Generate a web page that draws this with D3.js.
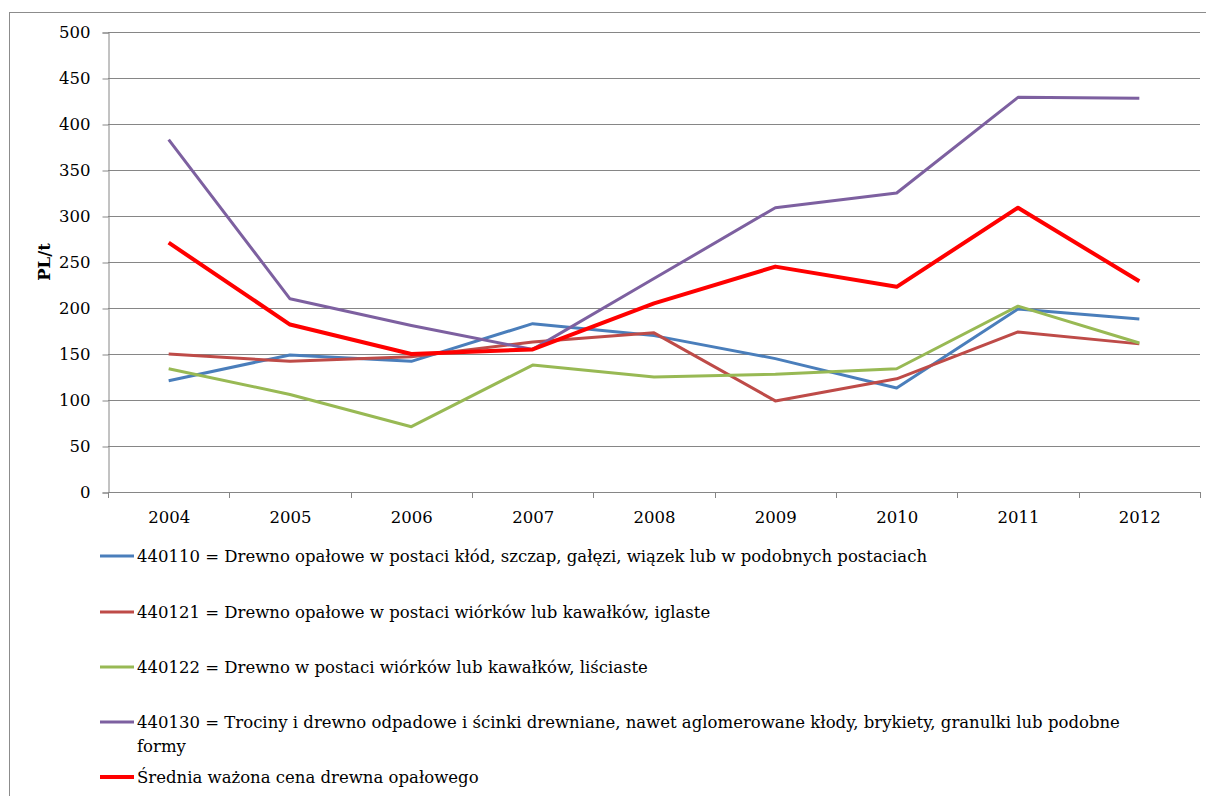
<!DOCTYPE html>
<html>
<head>
<meta charset="utf-8">
<script src="https://cdn.jsdelivr.net/npm/d3@7"></script>
<style>
  html, body { margin: 0; padding: 0; background: #fff; }
  svg { display: block; }
  text { font-family: "DejaVu Serif", "Liberation Serif", serif; fill: #000; }
</style>
</head>
<body>
<svg id="chart" width="1206" height="796"></svg>
<script>
// Years on the category axis
const years = ["2004", "2005", "2006", "2007", "2008", "2009", "2010", "2011", "2012"];

// Prices in PL/t per year
const s440110 = [121, 149, 142, 183, 170, 145, 113, 199, 188];
const s440121 = [150, 142, 147, 163, 173, 99, 123, 174, 161];
const s440122 = [134, 106, 71, 138, 125, 128, 134, 202, 162];
const s440130 = [383, 210, 181, 155, 232, 309, 325, 429, 428];
const sAverage = [271, 182, 150, 155, 205, 245, 223, 309, 229];

const yTicks = [0, 50, 100, 150, 200, 250, 300, 350, 400, 450, 500];

const seriesNames = [
  "440110 = Drewno opałowe w postaci kłód, szczap, gałęzi, wiązek lub w podobnych postaciach",
  "440121 = Drewno opałowe w postaci wiórków lub kawałków, iglaste",
  "440122 = Drewno w postaci wiórków lub kawałków, liściaste",
  "440130 = Trociny i drewno odpadowe i ścinki drewniane, nawet aglomerowane kłody, brykiety, granulki lub podobne|formy",
  "Średnia ważona cena drewna opałowego"
];

const series = [
  { name: seriesNames[0], values: s440110, color: "#4A7EBB", width: 3 },
  { name: seriesNames[1], values: s440121, color: "#BE4B48", width: 3 },
  { name: seriesNames[2], values: s440122, color: "#98B954", width: 3 },
  { name: seriesNames[3], values: s440130, color: "#7D60A0", width: 3 },
  { name: seriesNames[4], values: sAverage, color: "#FF0000", width: 4 }
];

const FONT = '"DejaVu Serif", serif';
const FS = "16.5px";

const svg = d3.select("#chart");

// Outer chart frame
svg.append("rect")
  .attr("x", 9.5).attr("y", 12.5)
  .attr("width", 1220).attr("height", 800)
  .attr("fill", "none").attr("stroke", "#8c8c8c").attr("stroke-width", 1);

const plot = { left: 108, right: 1200, top: 32, bottom: 492 };

const x = d3.scaleBand().domain(years).range([plot.left, plot.right]);
const y = d3.scaleLinear().domain([0, 500]).range([plot.bottom, plot.top]);

// Horizontal gridlines
svg.append("g")
  .selectAll("line")
  .data(yTicks.filter(d => d > 0))
  .join("line")
  .attr("x1", plot.left).attr("x2", plot.right)
  .attr("y1", d => Math.round(y(d)) + 0.5).attr("y2", d => Math.round(y(d)) + 0.5)
  .attr("stroke", "#868686").attr("stroke-width", 1);

// Y axis
const yAxis = svg.append("g")
  .attr("transform", `translate(${plot.left + 0.5},0.5)`)
  .call(d3.axisLeft(y).tickValues(yTicks).tickSize(6).tickPadding(12));
yAxis.selectAll("path, line").attr("stroke", "#868686");
yAxis.selectAll("text")
  .style("font-family", FONT)
  .style("font-size", FS).attr("fill", "#000");

// X axis with ticks at category boundaries
const xAxis = svg.append("g")
  .attr("transform", `translate(0.5,${plot.bottom + 0.5})`)
  .call(d3.axisBottom(x).tickSize(0).tickPadding(19));
xAxis.select(".domain").attr("stroke", "#868686").attr("d", `M${plot.left},0H${plot.right}`);
xAxis.selectAll("text")
  .style("font-family", FONT)
  .style("font-size", FS).attr("fill", "#000");
svg.append("g")
  .selectAll("line")
  .data(years.concat(["end"]))
  .join("line")
  .attr("x1", (d, i) => Math.round(plot.left + i * x.step()) + 0.5)
  .attr("x2", (d, i) => Math.round(plot.left + i * x.step()) + 0.5)
  .attr("y1", plot.bottom).attr("y2", plot.bottom + 6)
  .attr("stroke", "#868686");

// Y axis title
svg.append("text")
  .attr("transform", `translate(50,${(plot.top + plot.bottom) / 2}) rotate(-90)`)
  .attr("text-anchor", "middle")
  .style("font-size", FS).style("font-weight", "bold")
  .text("PL/t");

// Series lines
const line = d3.line()
  .x((d, i) => x(years[i]) + x.bandwidth() / 2)
  .y(d => y(d));

svg.append("g")
  .selectAll("path")
  .data(series)
  .join("path")
  .attr("d", d => line(d.values))
  .attr("fill", "none")
  .attr("stroke", d => d.color)
  .attr("stroke-width", d => d.width)
  .attr("stroke-linejoin", "round");

// Legend
const legendY = [556, 612, 667, 722, 777];
const legend = svg.append("g")
  .selectAll("g")
  .data(series)
  .join("g")
  .attr("transform", (d, i) => `translate(100,${legendY[i]})`);

legend.append("line")
  .attr("x1", 0).attr("x2", 34).attr("y1", 0).attr("y2", 0)
  .attr("stroke", d => d.color)
  .attr("stroke-width", d => d.width);

legend.append("text")
  .attr("x", 37).attr("y", 6)
  .style("font-size", FS)
  .each(function (d) {
    const parts = d.name.split("|");
    d3.select(this).selectAll("tspan")
      .data(parts)
      .join("tspan")
      .attr("x", 37)
      .attr("dy", (p, i) => i === 0 ? 0 : 24)
      .text(p => p);
  });
</script>
</body>
</html>
